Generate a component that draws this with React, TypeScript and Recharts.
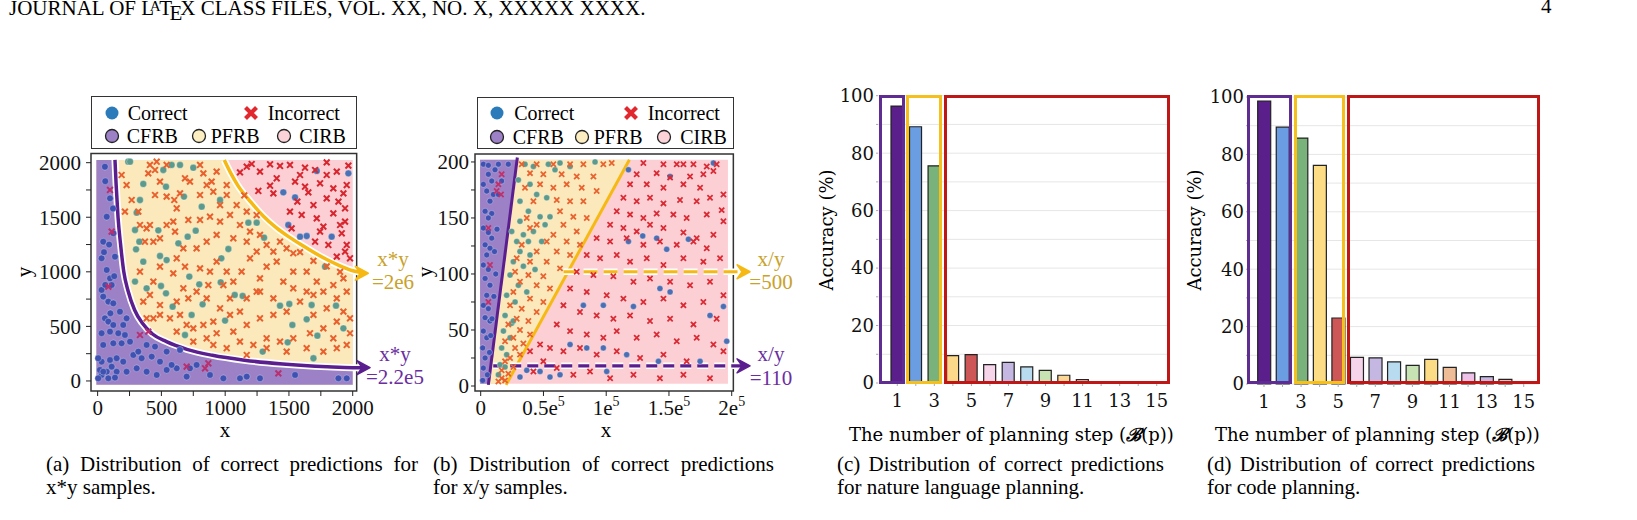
import React from "react";
import {
  ComposedChart,
  Scatter,
  Line,
  Area,
  XAxis,
  YAxis,
  ReferenceArea,
  ReferenceDot,
  BarChart,
  Bar,
  Cell,
  CartesianGrid,
} from "recharts";

const SERIF = "'Liberation Serif', 'Times New Roman', serif";
const BAR_FONT = "'DejaVu Serif', serif";

// ---------- (a) x*y samples ----------
const mulCorrectCfrb = [
  [57, 1963], [71, 1505], [97, 1673], [123, 1353], [136, 1139], [71, 1017], [97, 940], [110, 879], [44, 773],
  [84, 727], [123, 711], [31, 834], [175, 635], [57, 574], [84, 544], [123, 513], [31, 437], [97, 452],
  [162, 437], [214, 421], [254, 360], [188, 345], [123, 345], [44, 330], [31, 177], [97, 192], [149, 208],
  [201, 177], [280, 238], [345, 208], [424, 223], [489, 177], [306, 116], [227, 85], [149, 85], [71, 85],
  [31, 55], [84, 24], [136, 31], [18, 101], [384, 85], [463, 55], [541, 101], [620, 116], [698, 40],
  [776, 147], [881, 55], [986, 24], [1116, 24], [1169, 40], [1273, 24], [319, 269], [384, 330], [541, 269],
  [646, 284], [724, 116], [580, 147], [450, 315], [1888, 24], [1953, 24], [1548, 55], [31, 1124], [44, 1276],
  [44, 85], [110, 131], [5, 24], [5, 208], [227, 574], [201, 513], [60, 1830], [120, 1580], [90, 1250],
  [50, 1180], [130, 960], [60, 880], [100, 620],
];
const mulCorrectPfrb = [
  [240, 2009], [254, 2009], [358, 1805], [332, 1658], [306, 1542], [293, 1383], [327, 1276], [301, 1206],
  [358, 1093], [293, 911], [384, 849], [497, 870], [489, 1145], [541, 1108], [633, 1261], [476, 1380],
  [580, 1979], [515, 1933], [536, 1780], [646, 1979], [750, 1954], [677, 1689], [816, 1597], [769, 1377],
  [706, 1322], [719, 956], [797, 885], [823, 702], [965, 904], [970, 1124], [1025, 1209], [999, 553],
  [1075, 788], [1137, 779], [1182, 1450], [1247, 1450], [1305, 1313], [1294, 269], [1430, 690], [1503, 705],
  [1490, 354], [1527, 513], [1639, 565], [1678, 696], [1692, 208], [1723, 415], [1783, 1047], [1869, 690],
  [1927, 482], [536, 803], [588, 681], [685, 421], [737, 605], [960, 1658],
];
const mulCorrectCirb = [
  [1718, 1924], [1966, 1902], [1456, 1728], [1548, 1682], [1495, 1429], [1639, 1328], [1835, 1322], [1587, 1322],
];
const mulWrongCfrb = [
  [97, 1750], [110, 1368], [84, 864], [397, 452], [332, 421], [842, 116], [868, 162], [1417, 70], [698, 131],
];
const mulWrongPfrb = [
  [188, 1887], [227, 1795], [214, 1551], [267, 1658], [319, 1551], [332, 1429], [384, 1398], [371, 1276],
  [410, 1429], [397, 1902], [410, 1979], [450, 1933], [463, 2009], [541, 1979], [489, 1826], [450, 1704],
  [541, 1689], [601, 1658], [646, 1719], [724, 1826], [803, 1979], [829, 1902], [894, 1826], [933, 1918],
  [907, 1734], [855, 1795], [685, 1857], [620, 1582], [711, 1475], [593, 1460], [541, 1429], [489, 1307],
  [437, 1276], [607, 1368], [803, 1475], [881, 1505], [960, 1460], [1038, 1521], [1090, 1612], [1169, 1551],
  [1116, 1429], [1195, 1368], [1273, 1338], [1169, 1276], [1064, 1307], [933, 1338], [855, 1276], [776, 1215],
  [672, 1215], [620, 1124], [685, 1047], [593, 986], [489, 1047], [437, 910], [410, 788], [489, 696],
  [489, 605], [437, 574], [567, 574], [646, 605], [711, 757], [776, 818], [855, 757], [881, 1002], [803, 1032],
  [933, 1093], [1012, 1002], [1064, 910], [1129, 1002], [1195, 1124], [1247, 1185], [1325, 1246], [1378, 1185],
  [1430, 1276], [1482, 1215], [1534, 1170], [1587, 1180], [1404, 1093], [1325, 1047], [1273, 940], [1247, 818],
  [1169, 757], [1116, 635], [1038, 605], [960, 666], [907, 544], [829, 513], [750, 482], [750, 360], [855, 391],
  [933, 437], [1064, 452], [1169, 513], [1273, 574], [1378, 605], [1482, 635], [1587, 727], [1639, 818],
  [1534, 849], [1456, 910], [1534, 1002], [1639, 1002], [1718, 910], [1770, 818], [1848, 879], [1927, 940],
  [1953, 818], [1875, 757], [1796, 666], [1692, 605], [1927, 635], [1979, 574], [1875, 544], [1770, 482],
  [1665, 437], [1534, 391], [1430, 360], [1325, 391], [1221, 330], [1116, 360], [1325, 300], [1482, 269],
  [1639, 300], [1770, 269], [1875, 300], [1953, 330], [1979, 437], [1848, 391], [1692, 1100], [1796, 1050],
  [1901, 1000], [1692, 788], [1378, 757], [1273, 818], [1038, 757], [986, 879], [868, 879], [672, 849],
  [620, 727], [358, 727], [332, 1001], [803, 1704], [1012, 1704], [1012, 1795], [960, 1612], [1150, 1700],
  [1247, 1520], [384, 574], [698, 513], [620, 452], [1012, 300], [1169, 238], [907, 330],
];
const mulWrongCirb = [
  [1116, 1911], [1208, 1988], [1352, 1985], [1508, 1979], [1626, 1954], [1705, 1933], [1796, 2003], [1875, 1918],
  [1966, 1973], [1260, 1741], [1352, 1789], [1404, 1857], [1548, 1826], [1626, 1780], [1744, 1811], [1848, 1765],
  [1927, 1719], [1566, 1643], [1692, 1612], [1796, 1673], [1888, 1643], [1940, 1582], [1600, 1521], [1718, 1490],
  [1848, 1536], [1940, 1460], [1521, 1398], [1744, 1368], [1914, 1353], [1705, 1276], [1809, 1246], [1953, 1246],
  [1875, 1139], [1940, 1185], [1979, 1124], [1430, 1970], [1587, 1887], [1796, 1887], [1953, 1795], [1652, 1728],
  [1508, 1551], [1770, 1414], [1901, 1429], [1378, 1719], [1273, 1918], [1169, 1963],
];
// region borders (x*y = 2.2e5 and x*y = 2e6)
const mulCfrbEdge = [
  [136, 2025], [145, 1800], [160, 1500], [180, 1250], [205, 1000], [240, 820], [290, 650], [350, 530],
  [430, 430], [540, 360], [700, 290], [900, 235], [1150, 190], [1450, 155], [1800, 130], [2000, 122], [2105, 122],
];
const mulCirbEdge = [
  [993, 2025], [1050, 1890], [1100, 1790], [1200, 1640], [1300, 1510], [1400, 1405], [1500, 1320], [1600, 1245],
  [1700, 1175], [1800, 1110], [1900, 1055], [2000, 1010], [2090, 990],
];
const mulShadeX = [-10, 2000];
const mulShadeY = [-35, 2025];
const mulTicks = [0, 250, 500, 750, 1000, 1250, 1500, 1750, 2000];

// ---------- (b) x/y samples ----------
const divCorrectCfrb = [
  [2100, 198], [6100, 197], [14100, 198], [22000, 198], [6100, 189], [8800, 183], [4800, 174], [10100, 171],
  [7400, 165], [3500, 156], [8800, 154], [6100, 150], [2100, 141], [6100, 137], [8800, 132], [3500, 126],
  [7400, 123], [4800, 117], [2100, 108], [6100, 104], [3500, 96], [7400, 90], [4800, 81], [2100, 72],
  [6100, 69], [3500, 61], [7400, 58], [2100, 49], [4800, 43], [1600, 34], [3500, 25], [2100, 16], [5300, 10],
  [1600, 5], [11400, 193], [16700, 183], [14100, 171], [2100, 180], [9000, 60], [10500, 80], [12000, 100],
  [7000, 30], [8000, 45], [11000, 120], [13000, 140],
];
const divWrongCfrb = [[16700, 189], [14100, 180], [12700, 174], [16200, 171], [6100, 141], [7400, 108], [6100, 75]];
const divCorrectPfrb = [
  [35300, 198], [42000, 196], [53900, 198], [63200, 199], [91100, 200], [30000, 184], [39300, 180], [44600, 171],
  [52600, 168], [31300, 165], [38000, 156], [47300, 151], [55200, 151], [51300, 144], [42000, 138], [34000, 135],
  [28700, 129], [38000, 129], [48600, 129], [31300, 120], [39300, 117], [26000, 111], [34000, 107], [23400, 99],
  [30000, 90], [20700, 81], [27400, 75], [19400, 63], [24700, 56], [18100, 49], [23400, 43], [16700, 34],
  [20700, 28], [15400, 19], [19400, 17], [14100, 10], [59200, 193], [71200, 196], [31300, 147], [24700, 138],
  [43300, 104], [36700, 84], [26000, 58],
];
const divWrongPfrb = [
  [32700, 198], [44600, 198], [57900, 198], [71200, 198], [81800, 198], [97700, 198], [104400, 199], [39300, 190],
  [49900, 189], [64500, 189], [76500, 187], [89800, 187], [35300, 177], [47300, 180], [57900, 177], [68500, 180],
  [80500, 177], [92400, 174], [42000, 165], [60600, 166], [71200, 165], [81800, 165], [36700, 150], [63200, 156],
  [73800, 151], [84500, 150], [44600, 144], [65900, 144], [76500, 138], [57900, 135], [39300, 141], [52600, 129],
  [68500, 129], [79100, 126], [32700, 126], [44600, 120], [60600, 120], [71200, 117], [28700, 114], [39300, 111],
  [52600, 111], [63200, 105], [27400, 102], [38000, 99], [49900, 98], [31300, 93], [44600, 90], [55200, 87],
  [26000, 84], [39300, 78], [49900, 75], [23400, 72], [32700, 69], [44600, 66], [28700, 60], [38000, 58],
  [22000, 55], [31300, 50], [39300, 46], [26000, 43], [34000, 38], [19400, 40], [27400, 34], [31300, 28],
  [23400, 25], [19400, 22], [26000, 17], [16700, 14], [22000, 11], [16700, 7], [14100, 4], [19400, 5],
];
const divCorrectCirb = [
  [117700, 193], [150900, 187], [185400, 199], [117700, 129], [129100, 134], [140200, 132], [148200, 122],
  [165500, 131], [97700, 72], [121700, 71], [142800, 87], [150900, 84], [182700, 63], [193400, 71], [196000, 40],
  [81800, 72], [71200, 37], [84500, 34], [97700, 34], [116300, 28], [141600, 22], [174800, 22], [47300, 13],
  [55200, 8], [63200, 10], [31300, 8], [36700, 14], [100400, 13],
];
const divWrongCirb = [
  [129600, 199], [145600, 198], [156200, 198], [161500, 198], [169500, 198], [180100, 196], [188000, 198],
  [124300, 189], [140200, 190], [150900, 186], [166800, 187], [177400, 189], [185400, 192], [119000, 180],
  [132300, 180], [145600, 177], [161500, 180], [174800, 177], [193400, 171], [113700, 168], [124300, 165],
  [134900, 168], [145600, 163], [158800, 166], [172100, 165], [182700, 168], [108400, 156], [119000, 153],
  [129600, 150], [140200, 154], [153500, 153], [164100, 150], [180100, 153], [192000, 157], [103100, 144],
  [113700, 141], [124300, 138], [134900, 144], [145600, 141], [161500, 137], [172100, 132], [185400, 135],
  [193400, 147], [92400, 132], [103100, 129], [116300, 132], [129600, 126], [142800, 129], [156200, 126],
  [169500, 129], [180100, 123], [84500, 117], [95100, 114], [108400, 117], [119000, 111], [132300, 114],
  [145600, 108], [161500, 114], [177400, 111], [190700, 114], [76500, 102], [89800, 99], [105700, 98],
  [121700, 93], [134900, 96], [150900, 93], [166800, 90], [182700, 93], [71200, 87], [84500, 84], [100400, 81],
  [113700, 78], [129600, 75], [145600, 78], [161500, 72], [177400, 75], [193400, 81], [65900, 72], [79100, 66],
  [92400, 63], [105700, 60], [119000, 63], [134900, 58], [150900, 60], [169500, 55], [188000, 60], [60600, 55],
  [71200, 49], [84500, 46], [97700, 43], [108400, 49], [124300, 43], [140200, 46], [156200, 40], [172100, 43],
  [185400, 37], [55200, 34], [65900, 31], [79100, 34], [92400, 28], [108400, 31], [127000, 25], [145600, 28],
  [164100, 22], [193400, 31], [49900, 22], [60600, 16], [73800, 10], [87100, 13], [103100, 7], [121700, 10],
  [142800, 7], [161500, 10], [182700, 7], [39300, 31], [47300, 37], [42000, 13],
];
// region borders
const divCfrbEdge = [[6100, 1], [29200, 204]];
const divCirbEdge = [[20200, 1], [118500, 202]];
const divLevelHigh = [[66000, 102], [211000, 102]];
const divLevelLow = [[10000, 18], [211000, 18]];
const divShadeX = [-500, 197000];
const divShadeY = [2, 202];
const divXTicks = [0, 25000, 50000, 75000, 100000, 125000, 150000, 175000, 200000];
const divXLabels: Record<number, string> = { 0: "0", 50000: "0.5e", 100000: "1e", 150000: "1.5e", 200000: "2e" };
const divYTicks = [0, 25, 50, 75, 100, 125, 150, 175, 200];

// ---------- (c), (d) planning steps ----------
const steps = ["1", "2", "3", "4", "5", "6", "7", "8", "9", "10", "11", "12", "13", "14", "15"];
const nlAccuracy = [96.4, 89.2, 75.6, 9.5, 9.9, 6.4, 7.2, 5.6, 4.4, 2.7, 1.2, 0, 0, 0, 0];
const codeAccuracy = [98.6, 89.5, 85.7, 76.2, 23.0, 9.3, 9.1, 7.7, 6.5, 8.6, 5.8, 3.9, 2.6, 1.6, 0];
const nlColors = [
  "#5b1f8c", "#6b9de2", "#79b37b", "#fcd98a", "#cd5656", "#f6d4ea", "#c4b7e2", "#b8dbef",
  "#c7e3b4", "#fbd795", "#e8e0d0", "#eeeeee", "#eeeeee", "#eeeeee", "#eeeeee",
];
const codeColors = [
  "#5b1f8c", "#6b9de2", "#79b37b", "#fddc86", "#cd5656", "#f6d4ea", "#c4b7e2", "#b8dbef",
  "#c7e3b4", "#fddc86", "#efbc98", "#eec2e8", "#c4b7e2", "#cccccc", "#dddddd",
];
const accTicks = [0, 10, 20, 30, 40, 50, 60, 70, 80, 90, 100];

const PURPLE = "#5a1e8f";
const GOLD = "#f6b913";
const SHADE_PURPLE = "#9d81c7";
const SHADE_YELLOW = "#fce9bb";
const SHADE_PINK = "#fccfd5";

const pts = (a: number[][]) => a.map(([x, y]) => ({ x, y }));

const dot = (color: string, r: number) => (p: any) =>
  <circle cx={p.cx} cy={p.cy} r={r} fill={color} stroke="#ffffff" strokeWidth={0.5} strokeOpacity={0.6} />;
const cross = (color: string, s: number, w: number) => (p: any) => (
  <path
    d={`M${p.cx - s},${p.cy - s}L${p.cx + s},${p.cy + s}M${p.cx - s},${p.cy + s}L${p.cx + s},${p.cy - s}`}
    stroke={color}
    strokeWidth={w}
  />
);
const arrowhead = (color: string) => (p: any) => (
  <path
    d={`M${p.cx},${p.cy}L${p.cx - 13},${p.cy - 7}L${p.cx - 8},${p.cy}L${p.cx - 13},${p.cy + 7}Z`}
    fill={color}
    stroke={color}
    strokeWidth={1.5}
    strokeLinejoin="round"
  />
);

const tickStyle = { fontSize: 21, fontFamily: SERIF, fill: "#111" };

function MulChart() {
  const pink = [
    { x: mulShadeX[0], r: mulShadeY },
    { x: mulShadeX[1], r: mulShadeY },
  ];
  const yellow = [
    { x: mulShadeX[0], r: mulShadeY },
    ...mulCirbEdge.filter(([x]) => x <= mulShadeX[1]).map(([x, y]) => ({ x, r: [mulShadeY[0], y] })),
  ];
  const purple = [
    { x: mulShadeX[0], r: mulShadeY },
    ...mulCfrbEdge.filter(([x]) => x <= mulShadeX[1]).map(([x, y]) => ({ x, r: [mulShadeY[0], y] })),
  ];
  const lastC = mulCfrbEdge[mulCfrbEdge.length - 1];
  const lastI = mulCirbEdge[mulCirbEdge.length - 1];
  return (
    <ComposedChart width={385} height={290} margin={{ top: 13.4, right: 10.4, bottom: 9, left: 0 }}>
      <XAxis
        type="number"
        dataKey="x"
        domain={[-52, 2250]}
        allowDataOverflow
        ticks={mulTicks}
        tickFormatter={(v: number) => (v % 500 === 0 ? String(v) : "")}
        axisLine={false}
        stroke="#222"
        tickSize={5}
        tickMargin={4}
        tick={tickStyle}
        height={30}
      />
      <YAxis
        type="number"
        dataKey="y"
        domain={[-92, 2085]}
        allowDataOverflow
        ticks={mulTicks}
        tickFormatter={(v: number) => (v % 500 === 0 ? String(v) : "")}
        axisLine={false}
        stroke="#222"
        tickSize={5}
        tickMargin={5}
        tick={tickStyle}
        width={81}
      />
      <Area data={pink} dataKey="r" type="linear" fill={SHADE_PINK} fillOpacity={1} stroke="none" isAnimationActive={false} />
      <Area data={yellow} dataKey="r" type="linear" fill={SHADE_YELLOW} fillOpacity={1} stroke="none" isAnimationActive={false} />
      <Area data={purple} dataKey="r" type="linear" fill={SHADE_PURPLE} fillOpacity={1} stroke="none" isAnimationActive={false} />
      <Scatter data={pts(mulCorrectCfrb)} dataKey="y" shape={dot("#3f52b2", 3.4)} isAnimationActive={false} />
      <Scatter data={pts(mulCorrectPfrb)} dataKey="y" shape={dot("#5b9a8c", 3.4)} isAnimationActive={false} />
      <Scatter data={pts(mulCorrectCirb)} dataKey="y" shape={dot("#4a72b6", 3.4)} isAnimationActive={false} />
      <Scatter data={pts(mulWrongCfrb)} dataKey="y" shape={cross("#b8306f", 2.9, 2)} isAnimationActive={false} />
      <Scatter data={pts(mulWrongPfrb)} dataKey="y" shape={cross("#e8602d", 2.9, 2)} isAnimationActive={false} />
      <Scatter data={pts(mulWrongCirb)} dataKey="y" shape={cross("#d8262f", 2.9, 2)} isAnimationActive={false} />
      <Line data={pts(mulCfrbEdge)} dataKey="y" type="monotone" stroke="#ffffff" strokeWidth={7} dot={false} activeDot={false} isAnimationActive={false} />
      <Line data={pts(mulCfrbEdge)} dataKey="y" type="monotone" stroke={PURPLE} strokeWidth={3.5} dot={false} activeDot={false} isAnimationActive={false} />
      <Line data={pts(mulCirbEdge)} dataKey="y" type="monotone" stroke="#ffffff" strokeWidth={7} dot={false} activeDot={false} isAnimationActive={false} />
      <Line data={pts(mulCirbEdge)} dataKey="y" type="monotone" stroke={GOLD} strokeWidth={3.5} dot={false} activeDot={false} isAnimationActive={false} />
      <ReferenceDot x={lastC[0] + 31} y={lastC[1]} r={0} shape={arrowhead(PURPLE)} />
      <ReferenceDot x={lastI[0] + 32} y={lastI[1] - 3} r={0} shape={arrowhead(GOLD)} />
      <ReferenceArea x1={-52} x2={2031} y1={-92} y2={2085} fill="none" stroke="#333" strokeWidth={1.5} ifOverflow="visible" />
    </ComposedChart>
  );
}

const DivXTick = (props: any) => {
  const { x, y, payload } = props;
  const label = divXLabels[payload.value];
  if (label === undefined) return <g />;
  return (
    <text x={x} y={y} dy={15} textAnchor="middle" fontSize={21} fontFamily={SERIF} fill="#111">
      {label}
      {payload.value !== 0 && (
        <tspan dy={-9} fontSize={14}>
          5
        </tspan>
      )}
    </text>
  );
};

function DivChart() {
  const pink = [
    { x: divShadeX[0], r: divShadeY },
    { x: divShadeX[1], r: divShadeY },
  ];
  // the borders are straight lines, so the fills are polygons with corners on them
  const yellow = [
    { x: divCfrbEdge[0][0], r: [divShadeY[0], divShadeY[0]] },
    { x: divCirbEdge[0][0], r: [divShadeY[0], 125] },
    { x: 29000, r: [19, divShadeY[1]] },
    { x: divCirbEdge[1][0], r: [divShadeY[1], divShadeY[1]] },
  ];
  const purple = [
    { x: divShadeX[0], r: divShadeY },
    { x: divCfrbEdge[0][0], r: divShadeY },
    { x: 29000, r: [divShadeY[1], divShadeY[1]] },
  ];
  const hiEnd = divLevelHigh[1];
  const loEnd = divLevelLow[1];
  return (
    <ComposedChart width={360} height={290} margin={{ top: 14, right: 8.2, bottom: 9, left: 0 }}>
      <XAxis
        type="number"
        dataKey="x"
        domain={[-4540, 216000]}
        allowDataOverflow
        ticks={divXTicks}
        tick={<DivXTick />}
        axisLine={false}
        stroke="#222"
        tickSize={5}
        tickMargin={4}
        height={30}
      />
      <YAxis
        type="number"
        dataKey="y"
        domain={[-4.46, 207.1]}
        allowDataOverflow
        ticks={divYTicks}
        tickFormatter={(v: number) => (v % 50 === 0 ? String(v) : "")}
        axisLine={false}
        stroke="#222"
        tickSize={4}
        tickMargin={2}
        tick={tickStyle}
        width={75}
      />
      <Area data={pink} dataKey="r" type="linear" fill={SHADE_PINK} fillOpacity={1} stroke="none" isAnimationActive={false} />
      <Area data={yellow} dataKey="r" type="linear" fill={SHADE_YELLOW} fillOpacity={1} stroke="none" isAnimationActive={false} />
      <Area data={purple} dataKey="r" type="linear" fill={SHADE_PURPLE} fillOpacity={1} stroke="none" isAnimationActive={false} />
      <Scatter data={pts(divCorrectCfrb)} dataKey="y" shape={dot("#3f52b2", 3)} isAnimationActive={false} />
      <Scatter data={pts(divCorrectPfrb)} dataKey="y" shape={dot("#5b9a8c", 3)} isAnimationActive={false} />
      <Scatter data={pts(divCorrectCirb)} dataKey="y" shape={dot("#4a6fb5", 3)} isAnimationActive={false} />
      <Scatter data={pts(divWrongCfrb)} dataKey="y" shape={cross("#c0306a", 2.6, 1.8)} isAnimationActive={false} />
      <Scatter data={pts(divWrongPfrb)} dataKey="y" shape={cross("#e8632f", 2.6, 1.8)} isAnimationActive={false} />
      <Scatter data={pts(divWrongCirb)} dataKey="y" shape={cross("#da2b35", 2.6, 1.8)} isAnimationActive={false} />
      <Line data={pts(divCfrbEdge)} dataKey="y" type="linear" stroke={PURPLE} strokeWidth={3} dot={false} activeDot={false} isAnimationActive={false} />
      <Line data={pts(divCirbEdge)} dataKey="y" type="linear" stroke={GOLD} strokeWidth={3} dot={false} activeDot={false} isAnimationActive={false} />
      <Line data={pts(divLevelHigh)} dataKey="y" type="linear" stroke="#ffffff" strokeWidth={6.5} strokeDasharray="14 6" dot={false} activeDot={false} isAnimationActive={false} />
      <Line data={pts(divLevelHigh)} dataKey="y" type="linear" stroke={GOLD} strokeWidth={3.2} strokeDasharray="14 6" dot={false} activeDot={false} isAnimationActive={false} />
      <Line data={pts(divLevelLow)} dataKey="y" type="linear" stroke="#ffffff" strokeWidth={6.5} strokeDasharray="11 6" dot={false} activeDot={false} isAnimationActive={false} />
      <Line data={pts(divLevelLow)} dataKey="y" type="linear" stroke={PURPLE} strokeWidth={3.2} strokeDasharray="11 6" dot={false} activeDot={false} isAnimationActive={false} />
      <ReferenceDot x={hiEnd[0] + 3600} y={hiEnd[1]} r={0} shape={arrowhead(GOLD)} />
      <ReferenceDot x={loEnd[0] + 3600} y={loEnd[1]} r={0} shape={arrowhead(PURPLE)} />
      <ReferenceArea x1={-4540} x2={201300} y1={-4.46} y2={207.1} fill="none" stroke="#333" strokeWidth={1.5} ifOverflow="visible" />
    </ComposedChart>
  );
}

function StepChart({ values, colors, padLeft, padRight, top, bottom, barSize }: any) {
  const data = steps.map((s, i) => ({ step: s, acc: values[i] }));
  return (
    <BarChart width={375} height={340} data={data} margin={{ top, right: 6, bottom: 0, left: 0 }}>
      <CartesianGrid vertical={false} stroke="#e6e6e6" />
      <XAxis
        dataKey="step"
        interval={0}
        padding={{ left: padLeft, right: padRight }}
        tickFormatter={(v: string) => (Number(v) % 2 === 1 ? v : "")}
        axisLine={false}
        tickLine={{ stroke: "#aaa" }}
        tickSize={3}
        tickMargin={8}
        tick={{ fontSize: 18, fontFamily: BAR_FONT, fill: "#111" }}
        height={bottom}
      />
      <YAxis
        domain={[0, 100]}
        ticks={accTicks}
        tickFormatter={(v: number) => (v % 20 === 0 ? String(v) : "")}
        axisLine={false}
        tickLine={{ stroke: "#aaa" }}
        tickSize={2}
        tickMargin={2}
        tick={{ fontSize: 18, fontFamily: BAR_FONT, fill: "#111" }}
        width={78}
      />
      <Bar dataKey="acc" barSize={barSize} stroke="#222" strokeWidth={1.2} isAnimationActive={false}>
        {data.map((_, i) => (
          <Cell key={`c-${i}`} fill={colors[i]} />
        ))}
      </Bar>
    </BarChart>
  );
}

const abs = (left: number, top: number, extra: React.CSSProperties = {}): React.CSSProperties => ({
  position: "absolute",
  left,
  top,
  ...extra,
});

function Box({ l, r, t, b, color }: any) {
  return (
    <div
      style={abs(l, t, {
        width: r - l,
        height: b - t,
        border: `3px solid ${color}`,
        boxSizing: "border-box",
      })}
    />
  );
}

function Marker({ kind, color }: any) {
  return (
    <svg width={16} height={16} style={{ display: "block" }}>
      {kind === "dot" && <circle cx={8} cy={8} r={6.5} fill={color} />}
      {kind === "cross" && <path d="M2.5,2.5L13.5,13.5M2.5,13.5L13.5,2.5" stroke={color} strokeWidth={4.2} />}
      {kind === "region" && <circle cx={8} cy={8} r={6.5} fill={color} stroke="#222" strokeWidth={1.3} />}
    </svg>
  );
}

function ScatterLegend({ left, top, width, height, rows, entries }: any) {
  return (
    <div style={abs(left, top, { width, height, border: "1.5px solid #333", boxSizing: "border-box", background: "#fff" })}>
      {entries.map((e: any) => (
        <React.Fragment key={e.label}>
          <div style={abs(e.mx - 8, rows[e.row] - 8)}>
            <Marker kind={e.kind} color={e.color} />
          </div>
          <div style={abs(e.tx, rows[e.row] - 12, { fontFamily: SERIF, fontSize: 20, lineHeight: "24px", whiteSpace: "nowrap" })}>
            {e.label}
          </div>
        </React.Fragment>
      ))}
    </div>
  );
}

function Note({ cx, top, color, lines }: any) {
  return (
    <div
      style={abs(cx - 40, top, {
        width: 80,
        textAlign: "center",
        color,
        fontFamily: SERIF,
        fontSize: 21,
        lineHeight: "23.5px",
      })}
    >
      {lines.map((s: string) => (
        <div key={s}>{s}</div>
      ))}
    </div>
  );
}

function Caption({ left, width, first, second }: any) {
  const style: React.CSSProperties = { fontFamily: SERIF, fontSize: 21, lineHeight: "23px", color: "#000", whiteSpace: "nowrap" };
  return (
    <div style={abs(left, 452.5, { width })}>
      <div style={{ ...style, textAlign: "justify", textAlignLast: "justify" }}>{first}</div>
      <div style={style}>{second}</div>
    </div>
  );
}

const rotated = (cx: number, cy: number, text: string, font: string, size: number) => (
  <div
    style={abs(cx - 100, cy - 12, {
      width: 200,
      height: 24,
      lineHeight: "24px",
      textAlign: "center",
      transform: "rotate(-90deg)",
      fontFamily: font,
      fontSize: size,
      whiteSpace: "nowrap",
    })}
  >
    {text}
  </div>
);

export default function App() {
  const legendA = [
    { label: "Correct", kind: "dot", color: "#2b7bba", mx: 20, tx: 36, row: 0 },
    { label: "Incorrect", kind: "cross", color: "#e0282e", mx: 159, tx: 176, row: 0 },
    { label: "CFRB", kind: "region", color: SHADE_PURPLE, mx: 20, tx: 35, row: 1 },
    { label: "PFRB", kind: "region", color: "#fdeec2", mx: 107, tx: 119, row: 1 },
    { label: "CIRB", kind: "region", color: "#fcd3d8", mx: 192, tx: 207.5, row: 1 },
  ];
  const legendB = [
    { label: "Correct", kind: "dot", color: "#2b7bba", mx: 19, tx: 36.6, row: 0 },
    { label: "Incorrect", kind: "cross", color: "#e0282e", mx: 153.3, tx: 170, row: 0 },
    { label: "CFRB", kind: "region", color: SHADE_PURPLE, mx: 19, tx: 35, row: 1 },
    { label: "PFRB", kind: "region", color: "#fdeec2", mx: 104.5, tx: 116, row: 1 },
    { label: "CIRB", kind: "region", color: "#fcd3d8", mx: 186, tx: 202.5, row: 1 },
  ];
  const axisText = { fontFamily: SERIF, fontSize: 21, lineHeight: "24px" };
  const barLabel = { fontFamily: BAR_FONT, fontSize: 18, lineHeight: "22px", whiteSpace: "nowrap" as const };

  return (
    <div style={{ position: "absolute", left: 0, top: 0, width: 1637, height: 520, background: "#fff", overflow: "hidden", color: "#000" }}>
      {/* running head */}
      <div style={abs(9, -4, { fontFamily: SERIF, fontSize: 21, lineHeight: "21px", whiteSpace: "nowrap" })}>
        JOURNAL OF L
        <span style={{ fontSize: "0.72em", verticalAlign: "0.28em", marginLeft: "-0.28em", marginRight: "-0.1em" }}>A</span>T
        <span style={{ verticalAlign: "-0.22em", marginLeft: "-0.12em", marginRight: "-0.1em" }}>E</span>X CLASS FILES, VOL. XX, NO. X, XXXXX XXXX.
      </div>
      <div style={abs(1541, -4, { fontFamily: SERIF, fontSize: 21, lineHeight: "21px" })}>4</div>

      {/* (a) */}
      <div style={abs(10, 140)}>
        <MulChart />
      </div>
      <ScatterLegend left={90.7} top={96} width={266} height={53.3} rows={[15.7, 39]} entries={legendA} />
      <div style={abs(215, 418, { ...axisText, width: 20, textAlign: "center" })}>x</div>
      {rotated(24, 272, "y", SERIF, 21)}
      <Note cx={393} top={247.5} color="#c9a22a" lines={["x*y", "=2e6"]} />
      <Note cx={395} top={342.5} color="#6a2ea0" lines={["x*y", "=2.2e5"]} />

      {/* (b) */}
      <div style={abs(400, 140)}>
        <DivChart />
      </div>
      <ScatterLegend left={476.7} top={97.3} width={257.3} height={52} rows={[14.4, 38.4]} entries={legendB} />
      <div style={abs(596, 418, { ...axisText, width: 20, textAlign: "center" })}>x</div>
      {rotated(425, 272, "y", SERIF, 21)}
      <Note cx={771} top={247.5} color="#c9a22a" lines={["x/y", "=500"]} />
      <Note cx={771} top={343} color="#6a2ea0" lines={["x/y", "=110"]} />

      {/* (c) */}
      <div style={abs(800, 80)}>
        <StepChart values={nlAccuracy} colors={nlColors} padLeft={10} padRight={3} top={15.7} bottom={37} barSize={12} />
      </div>
      <Box l={879.3} r={904.7} t={95} b={384.3} color="#5f2c91" />
      <Box l={906} r={942.3} t={95} b={384.3} color="#f5c01e" />
      <Box l={944.3} r={1170} t={95} b={384.3} color="#bf1616" />
      {rotated(826.7, 230, "Accuracy (%)", BAR_FONT, 18)}
      <div style={abs(849, 424, barLabel)}>
        The number of planning step (<span style={{ fontStyle: "italic", fontWeight: 700 }}>ℬ</span>(p))
      </div>

      {/* (d) */}
      <div style={abs(1170, 80)}>
        <StepChart values={codeAccuracy} colors={codeColors} padLeft={6.7} padRight={6} top={17} bottom={36} barSize={13} />
      </div>
      <Box l={1246.7} r={1292.3} t={95} b={384.3} color="#5f2c91" />
      <Box l={1293.7} r={1345} t={95} b={384.3} color="#f5c01e" />
      <Box l={1346.7} r={1540} t={95} b={384.3} color="#bf1616" />
      {rotated(1195, 230, "Accuracy (%)", BAR_FONT, 18)}
      <div style={abs(1215, 424, barLabel)}>
        The number of planning step (<span style={{ fontStyle: "italic", fontWeight: 700 }}>ℬ</span>(p))
      </div>

      {/* captions */}
      <Caption left={46} width={372} first="(a) Distribution of correct predictions for" second="x*y samples." />
      <Caption left={433} width={341} first="(b) Distribution of correct predictions" second="for x/y samples." />
      <Caption left={837} width={327} first="(c) Distribution of correct predictions" second="for nature language planning." />
      <Caption left={1207} width={328} first="(d) Distribution of correct predictions" second="for code planning." />
    </div>
  );
}
